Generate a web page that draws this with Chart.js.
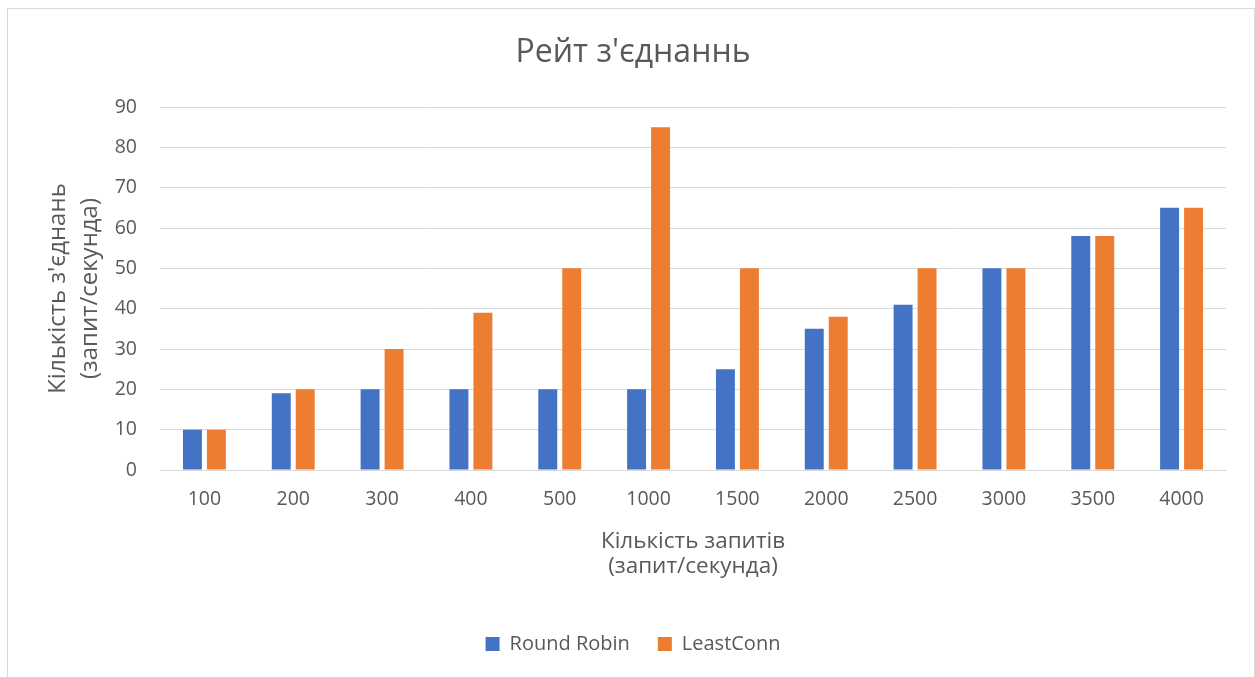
<!DOCTYPE html>
<html>
<head>
<meta charset="utf-8">
<script src="https://cdn.jsdelivr.net/npm/chart.js@4/dist/chart.umd.min.js"></script>
<style>
  html, body { margin: 0; padding: 0; background: #ffffff; overflow: hidden; }
  #wrap { position: absolute; left: 7px; top: 8px; width: 1246px; height: 668px;
          border-top: 1px solid #d9d9d9; border-left: 1px solid #d9d9d9; border-right: 1px solid #d9d9d9; }
  canvas { display: block; }
</style>
</head>
<body>
<div id="wrap"><canvas id="c" width="1246" height="668"></canvas></div>
<script>
const categories = ["100", "200", "300", "400", "500", "1000", "1500", "2000", "2500", "3000", "3500", "4000"];
const roundRobin = [10, 19, 20, 20, 20, 20, 25, 35, 41, 50, 58, 65];
const leastConn  = [10, 20, 30, 39, 50, 85, 50, 38, 50, 50, 58, 65];
const seriesNames = ["Round Robin", "LeastConn"];
const chartTitle = "Рейт з'єднаннь";
const xTitle = ["Кількість запитів", "(запит/секунда)"];
const yTitle = ["Кількість з'єднань", "(запит/секунда)"];
const yMin = 0, yMax = 90, yStep = 10;

const FONT = "'Open Sans', 'Noto Sans', sans-serif";
const TXT = "#595959";
const GRID = "#d9d9d9";

new Chart(document.getElementById("c"), {
  type: "bar",
  data: {
    labels: categories,
    datasets: [
      { label: seriesNames[0], data: roundRobin, backgroundColor: "#4472C4", borderWidth: 0,
        categoryPercentage: 0.54, barPercentage: 0.79 },
      { label: seriesNames[1], data: leastConn, backgroundColor: "#ED7D31", borderWidth: 0,
        categoryPercentage: 0.54, barPercentage: 0.79 }
    ]
  },
  options: {
    responsive: false,
    devicePixelRatio: 1,
    animation: false,
    layout: { padding: { left: 32, right: 28, top: 0, bottom: 13 } },
    plugins: {
      title: {
        display: true, text: chartTitle, color: TXT,
        font: { family: FONT, size: 32, weight: "normal", lineHeight: 1.2 },
        padding: { top: 24.8, bottom: 34.8 }
      },
      legend: {
        position: "bottom",
        labels: { color: TXT, font: { family: FONT, size: 20 }, boxWidth: 14, boxHeight: 14, padding: 28 }
      },
      tooltip: { enabled: false }
    },
    scales: {
      x: {
        grid: { display: false, drawTicks: false },
        border: { display: true, color: GRID, width: 1 },
        ticks: { color: TXT, font: { family: FONT, size: 19.5, lineHeight: 1.2 }, padding: 18, maxRotation: 0, autoSkip: false },
        title: { display: true, text: xTitle, color: TXT,
                 font: { family: FONT, size: 22.5, lineHeight: 1.11 }, padding: { top: 0, bottom: 26.5 } },
        afterFit: (s) => { s.height = 136; }
      },
      y: {
        min: yMin, max: yMax,
        grid: { color: GRID, lineWidth: 1, drawTicks: false },
        border: { display: false },
        ticks: { stepSize: yStep, color: TXT, font: { family: FONT, size: 19.5 }, padding: 23 },
        title: { display: true, text: yTitle, color: TXT,
                 font: { family: FONT, size: 24, lineHeight: 1.33 }, padding: { top: 2.6, bottom: 0 } },
        afterFit: (s) => { s.width = 120; }
      }
    }
  }
});
</script>
</body>
</html>
